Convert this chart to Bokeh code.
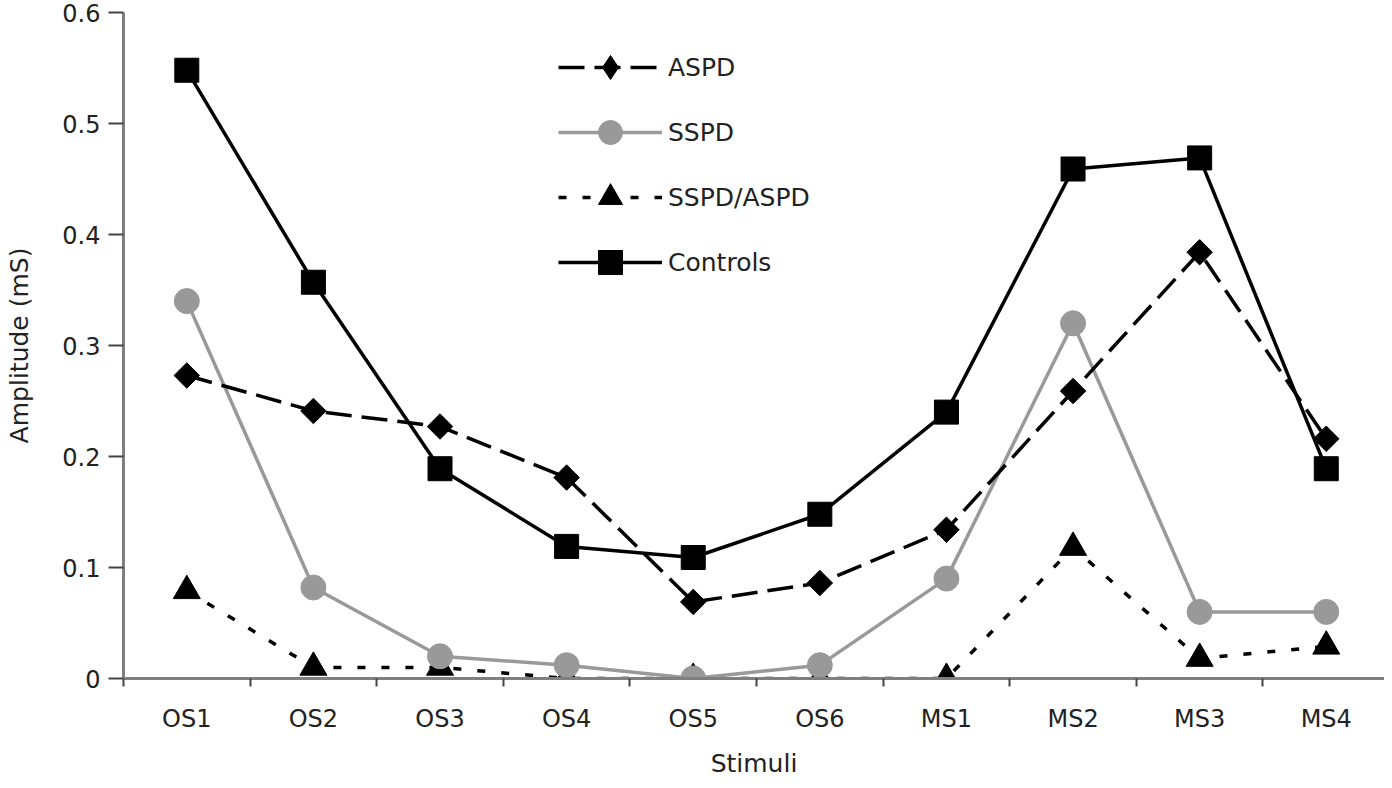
from bokeh.plotting import figure
from bokeh.models import Range1d, FixedTicker, Legend, LegendItem
from bokeh.embed import file_html
from bokeh.resources import INLINE
import math

categories = ["OS1", "OS2", "OS3", "OS4", "OS5", "OS6", "MS1", "MS2", "MS3", "MS4"]
aspd = [0.273, 0.241, 0.227, 0.181, 0.069, 0.086, 0.134, 0.259, 0.384, 0.216]
sspd = [0.340, 0.082, 0.020, 0.012, 0.000, 0.012, 0.090, 0.320, 0.060, 0.060]
sspd_aspd = [0.079, 0.010, 0.010, 0.000, 0.000, 0.000, 0.000, 0.118, 0.018, 0.029]
controls = [0.548, 0.357, 0.189, 0.119, 0.109, 0.148, 0.240, 0.459, 0.469, 0.189]
y_ticks = [0, 0.1, 0.2, 0.3, 0.4, 0.5, 0.6]
y_tick_labels = ["0", "0.1", "0.2", "0.3", "0.4", "0.5", "0.6"]

FONT = "DejaVu Sans"
x = [i + 0.5 for i in range(len(categories))]

p = figure(width=1384, height=780, output_backend="svg", toolbar_location=None,
           x_range=Range1d(0, 9.96), y_range=Range1d(0, 0.6),
           min_border_left=123, min_border_right=0, min_border_top=12, min_border_bottom=102)
p.outline_line_color = None
p.xgrid.visible = False
p.ygrid.visible = False
p.background_fill_color = "white"

# x axis: labels at category centres, ticks at category boundaries
p.xaxis.ticker = FixedTicker(ticks=x, minor_ticks=list(range(len(categories) + 1)))
p.xaxis.major_label_overrides = {xv: c for xv, c in zip(x, categories)}
p.xaxis.major_tick_out = 0
p.xaxis.major_tick_in = 0
p.xaxis.minor_tick_out = 8
p.xaxis.minor_tick_in = 0
p.xaxis.minor_tick_line_color = "#444444"
p.xaxis.minor_tick_line_width = 2
p.xaxis.major_label_standoff = 18
p.xaxis.axis_label = "Stimuli"
p.xaxis.axis_label_standoff = 13

# y axis
p.yaxis.ticker = FixedTicker(ticks=y_ticks, minor_ticks=[])
p.yaxis.major_label_overrides = {t: l for t, l in zip(y_ticks, y_tick_labels)}
p.yaxis.major_tick_out = 15
p.yaxis.major_tick_in = 0
p.yaxis.major_tick_line_color = "#444444"
p.yaxis.major_tick_line_width = 2
p.yaxis.major_label_standoff = 8
p.yaxis.axis_label = "Amplitude (mS)"
p.yaxis.axis_label_standoff = 25

for ax in (p.xaxis[0], p.yaxis[0]):
    ax.axis_line_color = "#7f7f7f"
    ax.axis_line_width = 3
    ax.major_label_text_font = FONT
    ax.major_label_text_font_size = "24px"
    ax.major_label_text_color = "#222222"
    ax.axis_label_text_font = FONT
    ax.axis_label_text_font_size = "25px"
    ax.axis_label_text_font_style = "normal"
    ax.axis_label_text_color = "#222222"

# series
l_ssaspd = p.line(x, sspd_aspd, line_color="black", line_width=3.5, line_dash="8 16")
m_ssaspd = p.scatter(x, sspd_aspd, marker="triangle", size=27, fill_color="black", line_color="black")

l_sspd = p.line(x, sspd, line_color="#999999", line_width=3.5)
m_sspd = p.scatter(x, sspd, marker="circle", size=25, fill_color="#999999", line_color="#999999")

l_aspd = p.line(x, aspd, line_color="black", line_width=3.5, line_dash="26 10")
# diamond used as legend key (legend glyphs ignore angle); hidden under the rotated squares
m_aspd_key = p.scatter(x, aspd, marker="diamond", size=22, fill_color="black", line_color="black")
m_aspd = p.scatter(x, aspd, marker="square", size=18, angle=math.pi / 4,
                   fill_color="black", line_color="black")

l_ctrl = p.line(x, controls, line_color="black", line_width=3.5)
m_ctrl = p.scatter(x, controls, marker="square", size=24, fill_color="black", line_color="black")

legend = Legend(items=[
    LegendItem(label="ASPD", renderers=[l_aspd, m_aspd_key]),
    LegendItem(label="SSPD", renderers=[l_sspd, m_sspd]),
    LegendItem(label="SSPD/ASPD", renderers=[l_ssaspd, m_ssaspd]),
    LegendItem(label="Controls", renderers=[l_ctrl, m_ctrl]),
], location=(435, 386))
legend.glyph_width = 104
legend.glyph_height = 60
legend.label_height = 60
legend.spacing = 5
legend.padding = 0
legend.margin = 0
legend.label_standoff = 6
legend.border_line_alpha = 0
legend.background_fill_alpha = 0
legend.label_text_font = FONT
legend.label_text_font_size = "25px"
legend.label_text_color = "#222222"
p.add_layout(legend, "center")

open("out.html", "w").write(file_html(p, INLINE))
